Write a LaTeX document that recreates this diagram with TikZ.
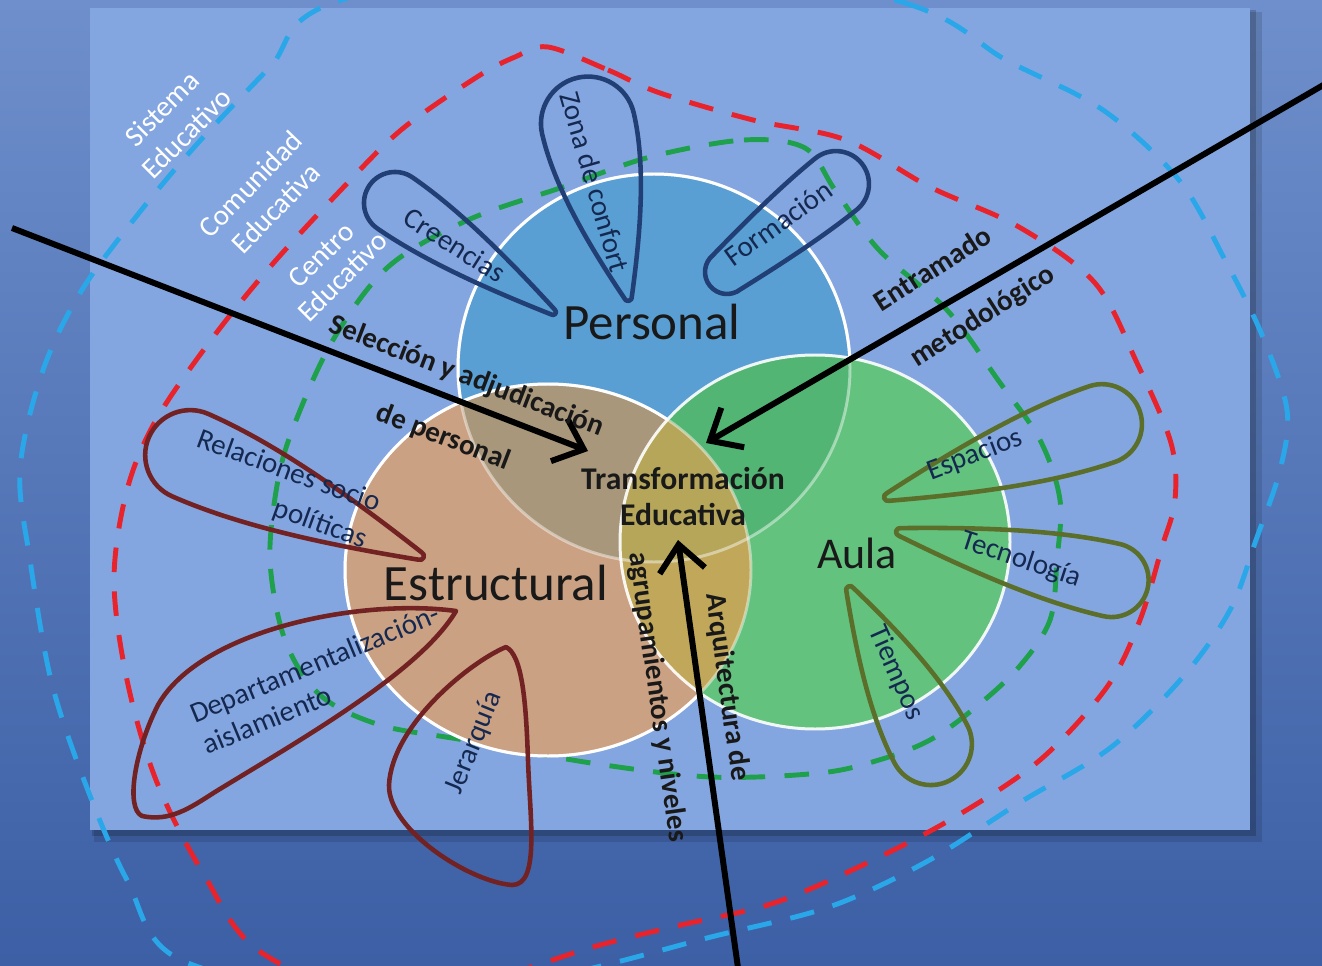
\documentclass[tikz,border=0pt]{standalone}
\usepackage{fontspec}
\setmainfont{Carlito}
\usetikzlibrary{arrows.meta}
\definecolor{bgtop}{HTML}{6E8FCB}
\definecolor{bgbot}{HTML}{3C5FA5}
\definecolor{rectfill}{HTML}{84A6E0}
\definecolor{dblue}{HTML}{2AA7E8}
\definecolor{dred}{HTML}{E8232B}
\definecolor{dgreen}{HTML}{1FA04A}
\definecolor{pcol}{HTML}{5A9FD4}
\definecolor{ecol}{HTML}{CBA183}
\definecolor{acol}{HTML}{62C27E}
\definecolor{pecol}{HTML}{A8977A}
\definecolor{pacol}{HTML}{52B574}
\definecolor{eacol}{HTML}{C0A75A}
\definecolor{tricol}{HTML}{B5A65A}
\definecolor{navyline}{HTML}{213F74}
\definecolor{maroon}{HTML}{722222}
\definecolor{oliveline}{HTML}{5B6F2A}
\definecolor{navytext}{HTML}{142850}
\newcommand\pathP{(654,368) ellipse [x radius=196, y radius=194]}
\newcommand\pathE{(548,570) ellipse [x radius=203, y radius=186]}
\newcommand\pathA{(815,542) ellipse [x radius=195, y radius=187]}
\tikzset{
  pics/petal/.style n args={3}{code={
    \path[pic actions] (0,#3) .. controls ({0.35*#1},{0.55*#2+0.45*#3}) and ({0.7*#1},#2) .. (#1,#2)
      arc[start angle=90,end angle=-90,radius=#2]
      .. controls ({0.7*#1},{-#2}) and ({0.35*#1},{-0.55*#2-0.45*#3}) .. (0,-#3)
      arc[start angle=-90,end angle=-270,radius=#3] -- cycle;
  }},
  dashloop/.style={line width=2.8pt, dash pattern=on 14pt off 11pt},
  bord/.style={draw=white, line width=1.7pt},
  ppet/.style={draw=navyline, line width=2.6pt, line join=round},
  epet/.style={draw=maroon, line width=2.6pt, line join=round},
  apet/.style={draw=oliveline, line width=2.6pt, line join=round},
  lbl/.style={text=navytext, font=\fontsize{16.5}{19}\selectfont, inner sep=0pt},
  wlbl/.style={text=white, align=center, inner sep=0pt},
  blbl/.style={text=black!90, font=\bfseries\fontsize{16.5}{19}\selectfont, inner sep=0pt},
  big/.style={text=black!90, font=\fontsize{29}{32}\selectfont, inner sep=0pt},
  arr/.style={line width=3.4pt, -{Straight Barb[length=15pt,width=26pt]}}
}
\begin{document}
\begin{tikzpicture}[x=0.02cm,y=-0.02cm]
\useasboundingbox (0,0) rectangle (1322,966);
\clip (0,0) rectangle (1322,966);
% background
\shade[top color=bgtop, bottom color=bgbot] (0,0) rectangle (1322,966);
\fill[black,opacity=0.12] (94,12) rectangle (1262,842);
\fill[black,opacity=0.18] (92,10) rectangle (1256,836);
\fill[rectfill] (90,8) rectangle (1250,830);
% dashed loops
\draw[dashloop, draw=dblue] plot[smooth cycle, tension=0.55] coordinates {
 (620,-60) (905,3) (1006,60) (1103,110) (1179,180) (1225,260) (1262,335) (1287,410)
 (1280,470) (1256,540) (1230,610) (1182,678) (1110,748) (1019,803) (926,862) (829,907)
 (711,937) (560,975) (380,1000) (181,960) (127,880) (84,780) (51,680) (30,560) (20,470)
 (42,373) (80,293) (139,213) (198,143) (270,67) (333,3)};
\draw[dashloop, draw=dred] plot[smooth cycle, tension=0.55] coordinates {
 (548,47) (608,70) (660,93) (753,120) (846,140) (930,187) (1019,227) (1095,283) (1137,363)
 (1171,443) (1175,500) (1162,547) (1140,620) (1107,687) (1040,760) (955,817) (867,863)
 (774,903) (681,925) (600,945) (400,1000) (262,953) (203,873) (156,780) (127,680) (114,580)
 (127,490) (156,420) (211,340) (270,267) (338,193) (401,130) (477,77) (515,57)};
\draw[dashloop, draw=dgreen] plot[smooth cycle, tension=0.55] coordinates {
 (650,157) (744,140) (805,148) (835,190) (879,250) (947,310) (998,380) (1040,440) (1060,500)
 (1057,560) (1050,620) (1019,667) (976,707) (930,740) (879,760) (820,773) (711,777) (591,763)
 (464,740) (380,725) (320,695) (285,640) (270,560) (278,480) (295,423) (333,340) (388,267)
 (468,220) (560,188)};
% circles
\fill[pcol] \pathP;
\draw[bord] \pathP;
\fill[ecol] \pathE;
\begin{scope}\clip \pathE; \fill[pecol] \pathP; \end{scope}
\draw[bord] \pathE;
\fill[acol] \pathA;
\begin{scope}\clip \pathA; \fill[pacol] \pathP; \fill[eacol] \pathE; \end{scope}
\begin{scope}\clip \pathA; \clip \pathE; \fill[tricol] \pathP; \end{scope}
\draw[bord, opacity=0.9] \pathA;
\draw[bord, opacity=0.45] \pathP;
\draw[bord, opacity=0.45] \pathE;
% petals Personal
\pic[ppet, rotate=145.4] at (553,312) {petal={192}{31}{3}};
\pic[ppet, rotate=103.0] at (628,297) {petal={178}{47}{4}};
\pic[ppet, rotate=38.9] at (727,272) {petal={140}{33}{22}};
% petals Estructural
\pic[epet, rotate=156.3] at (420,556) {petal={251}{45}{4}};
\draw[epet] (456,611) .. controls (360,598) and (200,630) .. (158,705)
  .. controls (135,750) and (125,808) .. (142,816)
  .. controls (170,822) and (190,808) .. (215,792)
  .. controls (300,740) and (420,672) .. cycle;
\draw[epet] (506,647) .. controls (470,662) and (392,725) .. (389,785)
  .. controls (388,830) and (470,882) .. (512,885)
  .. controls (540,885) and (530,820) .. (528,760)
  .. controls (526,700) and (522,655) .. cycle;
% petals Aula
\pic[apet, rotate=18.8] at (888,497) {petal={226}{40}{4}};
\pic[apet, rotate=-12.8] at (900,532) {petal={217}{37}{4}};
\pic[apet, rotate=-62.3] at (850,590) {petal={174}{41}{4}};
% arrows
\coordinate (a1s) at (12,228);
\coordinate (a1e) at (588,451);
\coordinate (a2s) at (1332,80);
\coordinate (a2e) at (706,443);
\coordinate (a3s) at (739,975);
\coordinate (a3e) at (678,540);
\draw[arr] (a1s) -- (a1e);
\draw[arr] (a2s) -- (a2e);
\draw[arr] (a3s) -- (a3e);
% labels
\node[wlbl, font=\fontsize{16.5}{19.9}\selectfont, rotate=45] (sis) at (174,121) {Sistema\\Educativo};
\node[wlbl, font=\fontsize{16.5}{19.9}\selectfont, rotate=46] (com) at (263,196) {Comunidad\\Educativa};
\node[wlbl, font=\fontsize{16.5}{17.5}\selectfont, rotate=45] (cen) at (332,266) {Centro\\Educativo};
\node[big] (per) at (652,322) {Personal};
\node[big] (est) at (496,583) {Estructural};
\node[big, font=\fontsize{25}{28}\selectfont] (aul) at (857,553) {Aula};
\node[blbl, align=center, font=\bfseries\fontsize{18}{20.5}\selectfont] (tra) at (683,497) {Transformación\\Educativa};
\node[lbl, rotate=-32.4] (cre) at (455,245) {Creencias};
\node[lbl, rotate=-74] (zon) at (595,182) {Zona de confort};
\node[lbl, rotate=35.6] (for) at (778,223) {Formación};
\node[lbl, align=right, font=\fontsize{16.5}{21.9}\selectfont, rotate=-20] (rel) at (282,490) {Relaciones socio\\políticas};
\node[lbl, align=left, font=\fontsize{16.5}{19.3}\selectfont, rotate=22.5] (dep) at (321,679) {Departamentalización-\\aislamiento};
\node[lbl, rotate=68] (jer) at (474,743) {Jerarquía};
\node[lbl, rotate=21] (esp) at (975,455) {Espacios};
\node[lbl, rotate=-18] (tec) at (1021,560) {Tecnología};
\node[lbl, rotate=-66] (tie) at (896,673) {Tiempos};
\node[blbl, align=center, font=\bfseries\fontsize{16.5}{37}\selectfont, rotate=-21] (sel) at (455,407) {Selección y adjudicación\\de personal};
\node[blbl, align=left, font=\bfseries\fontsize{16.5}{37.5}\selectfont, rotate=32.5] (ent) at (965,289) {Entramado\\metodológico};
\node[blbl, align=center, font=\bfseries\fontsize{16.5}{40}\selectfont, rotate=-82] (arq) at (692,692) {Arquitectura de\\agrupamientos y niveles};
\end{tikzpicture}
\end{document}
